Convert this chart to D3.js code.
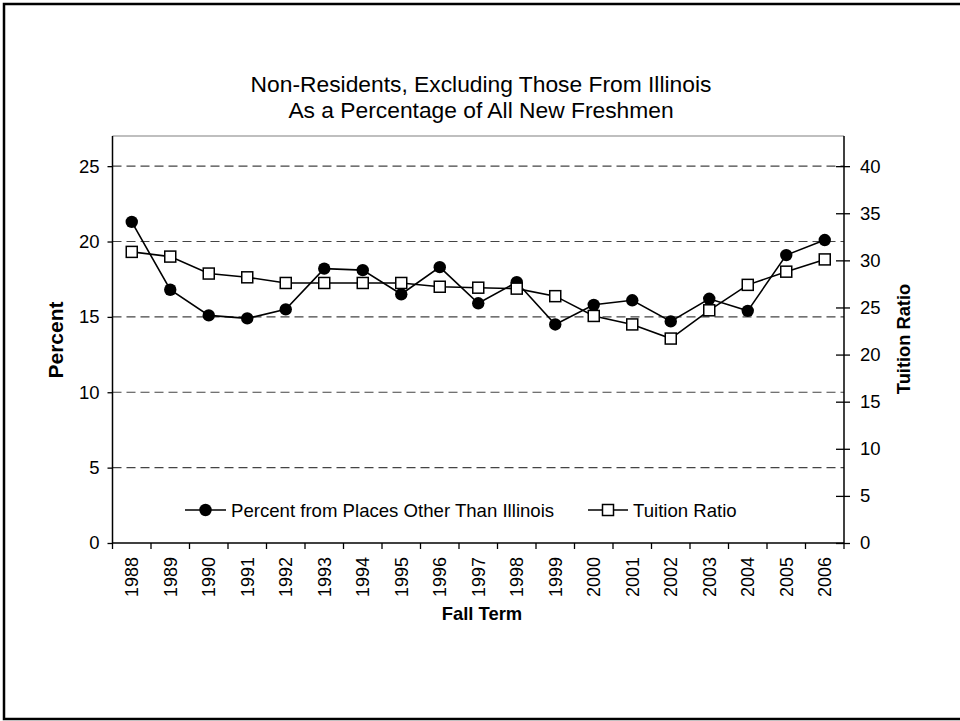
<!DOCTYPE html>
<html>
<head>
<meta charset="utf-8">
<script src="https://cdn.jsdelivr.net/npm/d3@7"></script>
<style>
  html, body { margin: 0; padding: 0; background: #fff; }
  svg { display: block; font-family: "Liberation Sans", Arial, sans-serif; }
</style>
</head>
<body>
<svg id="chart" width="960" height="721"></svg>
<script>
const years = ["1988","1989","1990","1991","1992","1993","1994","1995","1996","1997","1998","1999","2000","2001","2002","2003","2004","2005","2006"];
const percentValues = [21.3, 16.8, 15.1, 14.9, 15.5, 18.2, 18.1, 16.5, 18.3, 15.9, 17.3, 14.5, 15.8, 16.1, 14.7, 16.2, 15.4, 19.1, 20.1];
const tuitionValues = [30.9, 30.4, 28.6, 28.2, 27.6, 27.6, 27.6, 27.6, 27.2, 27.1, 27.0, 26.2, 24.1, 23.2, 21.7, 24.7, 27.4, 28.8, 30.1];
const leftTicks = [0, 5, 10, 15, 20, 25];
const rightTicks = [0, 5, 10, 15, 20, 25, 30, 35, 40];
const gridTicks = [5, 10, 15, 20, 25];
const titleLines = ["Non-Residents, Excluding Those From Illinois", "As a Percentage of All New Freshmen"];
const seriesNames = ["Percent from Places Other Than Illinois", "Tuition Ratio"];

const svg = d3.select("#chart");
const plot = { left: 112.5, right: 844, top: 136, bottom: 543 };

// outer frame
svg.append("rect").attr("x", 4).attr("y", 4).attr("width", 962).attr("height", 715)
  .attr("fill", "none").attr("stroke", "#000").attr("stroke-width", 2.5);

const x = d3.scaleBand().domain(years).range([plot.left, plot.right]);
const yL = d3.scaleLinear().domain([0, 27]).range([plot.bottom, plot.top]);
const yR = d3.scaleLinear().domain([0, 43.2]).range([plot.bottom, plot.top]);
const cx = d => x(d) + x.bandwidth() / 2;

// title
svg.append("g").selectAll("text").data(titleLines).join("text")
  .attr("x", 481).attr("y", (d, i) => 92 + i * 26)
  .attr("text-anchor", "middle").attr("font-size", 22.8).attr("fill", "#000")
  .text(d => d);

// plot top border
svg.append("line").attr("x1", plot.left).attr("x2", plot.right)
  .attr("y1", plot.top).attr("y2", plot.top).attr("stroke", "#808080").attr("stroke-width", 1.2);

// gridlines
svg.append("g").selectAll("line").data(gridTicks).join("line")
  .attr("x1", plot.left).attr("x2", plot.right)
  .attr("y1", d => yL(d)).attr("y2", d => yL(d))
  .attr("stroke", "#444").attr("stroke-width", 1.2).attr("stroke-dasharray", "9,5");

// left axis
const gL = svg.append("g").attr("transform", `translate(${plot.left},0)`)
  .call(d3.axisLeft(yL).tickValues(leftTicks).tickSize(5).tickSizeOuter(0).tickPadding(8));
gL.select(".domain").remove();
gL.selectAll(".tick line").attr("stroke", "#000").attr("stroke-width", 1.3);
gL.selectAll(".tick text").attr("font-size", 18.5).attr("font-family", "Liberation Sans, Arial, sans-serif").attr("fill", "#000");
svg.append("line").attr("x1", plot.left).attr("x2", plot.left)
  .attr("y1", plot.top).attr("y2", plot.bottom).attr("stroke", "#000").attr("stroke-width", 1.5);

// right axis
const gR = svg.append("g").attr("transform", `translate(${plot.right},0)`)
  .call(d3.axisRight(yR).tickValues(rightTicks).tickSize(6).tickSizeOuter(0).tickPadding(10));
gR.select(".domain").remove();
gR.selectAll(".tick line").attr("x1", -8).attr("stroke", "#000").attr("stroke-width", 1.3);
gR.selectAll(".tick text").attr("font-size", 18.5).attr("font-family", "Liberation Sans, Arial, sans-serif").attr("fill", "#000");
svg.append("line").attr("x1", plot.right).attr("x2", plot.right)
  .attr("y1", plot.top).attr("y2", plot.bottom).attr("stroke", "#000").attr("stroke-width", 1.5);

// bottom axis line and ticks at category boundaries
svg.append("line").attr("x1", plot.left).attr("x2", plot.right)
  .attr("y1", plot.bottom).attr("y2", plot.bottom).attr("stroke", "#000").attr("stroke-width", 1.5);
const boundaries = years.map(d => x(d)).concat([x(years[years.length - 1]) + x.bandwidth()]);
svg.append("g").selectAll("line").data(boundaries).join("line")
  .attr("x1", d => d).attr("x2", d => d)
  .attr("y1", plot.bottom).attr("y2", plot.bottom + 6)
  .attr("stroke", "#000").attr("stroke-width", 1.3);
svg.append("g").selectAll("text").data(years).join("text")
  .attr("transform", d => `translate(${cx(d)},557) rotate(-90)`)
  .attr("text-anchor", "end").attr("dy", "0.35em")
  .attr("font-size", 18).attr("fill", "#000")
  .text(d => d);

// axis titles
svg.append("text").attr("transform", `translate(63,340) rotate(-90)`)
  .attr("text-anchor", "middle").attr("font-size", 21).attr("font-weight", "bold").text("Percent");
svg.append("text").attr("transform", `translate(910,339) rotate(-90)`)
  .attr("text-anchor", "middle").attr("font-size", 18.3).attr("font-weight", "bold").text("Tuition Ratio");
svg.append("text").attr("x", 482).attr("y", 620)
  .attr("text-anchor", "middle").attr("font-size", 18.4).attr("font-weight", "bold").text("Fall Term");

// percent series
const lineL = d3.line().x((d, i) => cx(years[i])).y(d => yL(d));
svg.append("path").datum(percentValues).attr("d", lineL)
  .attr("fill", "none").attr("stroke", "#000").attr("stroke-width", 1.6);
svg.append("g").selectAll("circle").data(percentValues).join("circle")
  .attr("cx", (d, i) => cx(years[i])).attr("cy", d => yL(d)).attr("r", 6.2).attr("fill", "#000");

// tuition series
const lineR = d3.line().x((d, i) => cx(years[i])).y(d => yR(d));
svg.append("path").datum(tuitionValues).attr("d", lineR)
  .attr("fill", "none").attr("stroke", "#000").attr("stroke-width", 1.6);
const sq = 11;
svg.append("g").selectAll("rect").data(tuitionValues).join("rect")
  .attr("x", (d, i) => cx(years[i]) - sq / 2).attr("y", d => yR(d) - sq / 2)
  .attr("width", sq).attr("height", sq)
  .attr("fill", "#fff").attr("stroke", "#000").attr("stroke-width", 1.5);

// legend
const legY = 510;
const leg = svg.append("g");
leg.append("line").attr("x1", 185).attr("x2", 226).attr("y1", legY).attr("y2", legY).attr("stroke", "#000").attr("stroke-width", 1.6);
leg.append("circle").attr("cx", 205.5).attr("cy", legY).attr("r", 6.2).attr("fill", "#000");
leg.append("text").attr("x", 231).attr("y", legY).attr("dy", "0.35em").attr("font-size", 18.6).text(seriesNames[0]);
leg.append("line").attr("x1", 588).attr("x2", 628).attr("y1", legY).attr("y2", legY).attr("stroke", "#000").attr("stroke-width", 1.6);
leg.append("rect").attr("x", 608 - sq / 2).attr("y", legY - sq / 2).attr("width", sq).attr("height", sq)
  .attr("fill", "#fff").attr("stroke", "#000").attr("stroke-width", 1.5);
leg.append("text").attr("x", 633).attr("y", legY).attr("dy", "0.35em").attr("font-size", 18.6).text(seriesNames[1]);
</script>
</body>
</html>
